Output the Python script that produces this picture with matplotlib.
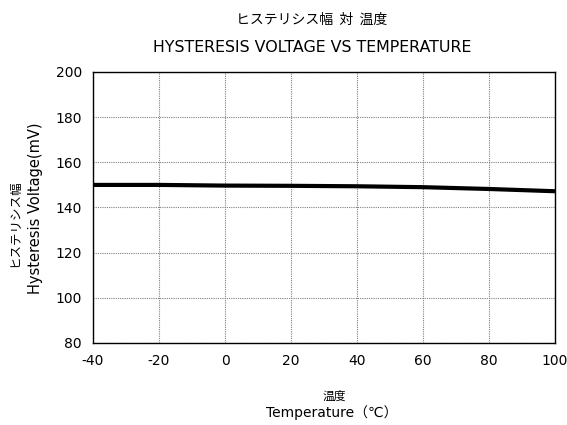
import matplotlib
matplotlib.use("Agg")
import matplotlib.pyplot as plt

# Data
temperature = [-40, -20, 0, 20, 40, 60, 80, 100]
hysteresis_mv = [150.0, 150.0, 149.7, 149.6, 149.4, 149.0, 148.2, 147.2]

x_ticks = [-40, -20, 0, 20, 40, 60, 80, 100]
y_ticks = [80, 100, 120, 140, 160, 180, 200]

plt.rcParams["font.family"] = ["DejaVu Sans", "Noto Sans CJK JP"]
plt.rcParams["axes.unicode_minus"] = False
jp = ["Noto Sans CJK JP", "DejaVu Sans"]
lat = ["DejaVu Sans", "Noto Sans CJK JP"]


def main():
    fig = plt.figure(figsize=(5.67, 4.25), dpi=100)
    ax = fig.add_axes([93 / 567, 1 - 343 / 425, (555 - 93) / 567, (343 - 72) / 425])

    ax.plot(temperature, hysteresis_mv, color="black", linewidth=3.0, solid_capstyle="butt")

    ax.set_xlim(-40, 100)
    ax.set_ylim(80, 200)
    ax.set_xticks(x_ticks)
    ax.set_yticks(y_ticks)
    ax.tick_params(length=0, labelsize=10, pad=8)
    ax.grid(True, color="#808080", linestyle=(0, (1, 1)), linewidth=0.8)
    for s in ax.spines.values():
        s.set_linewidth(1.0)
        s.set_color("black")

    fig.text(312 / 567, 1 - 20 / 425, "ヒステリシス幅  対  温度",
             ha="center", va="center", fontsize=10, family=jp)
    fig.text(312 / 567, 1 - 48 / 425, "HYSTERESIS VOLTAGE VS TEMPERATURE",
             ha="center", va="center", fontsize=11.4, family=lat)

    fig.text(334 / 567, 1 - 396 / 425, "温度",
             ha="center", va="center", fontsize=8.5, family=jp)
    fig.text(332 / 567, 1 - 413 / 425, "Temperature（℃）",
             ha="center", va="center", fontsize=10, family=lat)

    fig.text(15 / 567, 1 - 223 / 425, "ヒステリシス幅",
             ha="center", va="center", rotation=90, fontsize=9, family=jp)
    fig.text(36 / 567, 1 - 208 / 425, "Hysteresis Voltage(mV)",
             ha="center", va="center", rotation=90, fontsize=10.5, family=lat)

    fig.savefig("out.png", dpi=100)


if __name__ == "__main__":
    main()
